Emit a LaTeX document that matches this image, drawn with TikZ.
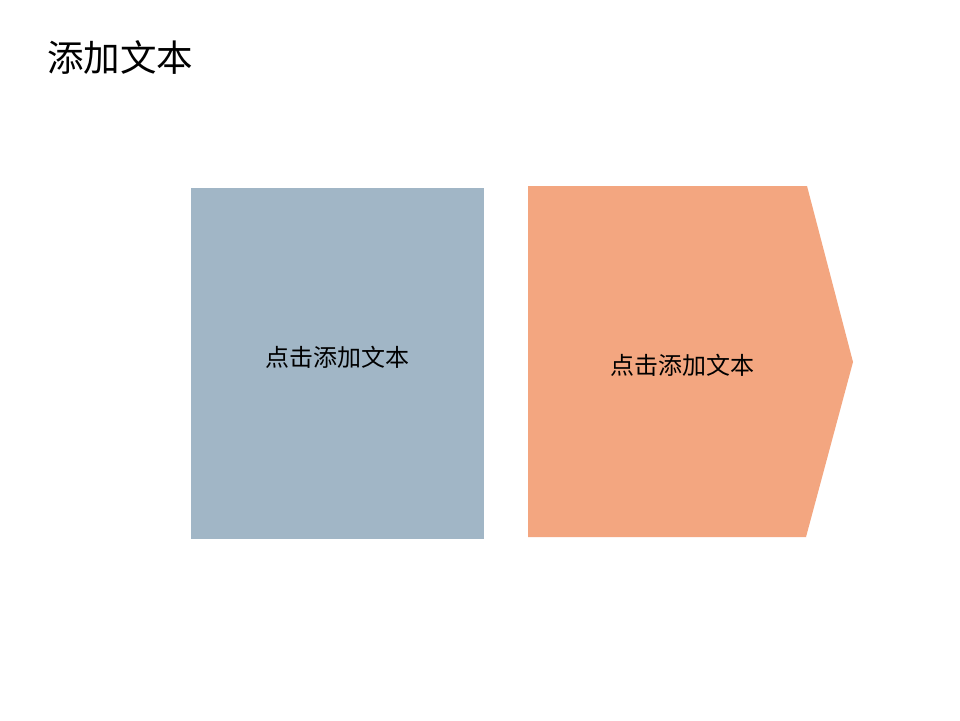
\documentclass[tikz,border=0pt]{standalone}
\usepackage{fontspec}
\newfontfamily\cjk{Noto Sans CJK SC}
\definecolor{boxblue}{RGB}{161,182,198}
\definecolor{boxorange}{RGB}{243,166,128}
\begin{document}
\begin{tikzpicture}[x=1pt,y=-1pt,
  label/.style={font=\cjk\fontsize{24}{28}\selectfont,text=black,inner sep=0pt},
  title/.style={font=\cjk\fontsize{36.5}{42}\selectfont,text=black,inner sep=0pt,anchor=west}]
\useasboundingbox (0,0) rectangle (960,720);
\fill[white] (0,0) rectangle (960,720);
\node[title] (t) at (47,58) {添加文本};
\fill[boxblue] (191,188) rectangle (484,539);
\fill[boxorange] (528,186) -- (807,186) -- (853,362) -- (806,537) -- (528,537) -- cycle;
\node[label] (a) at (337,357) {点击添加文本};
\node[label] (b) at (682,365) {点击添加文本};
\end{tikzpicture}
\end{document}
